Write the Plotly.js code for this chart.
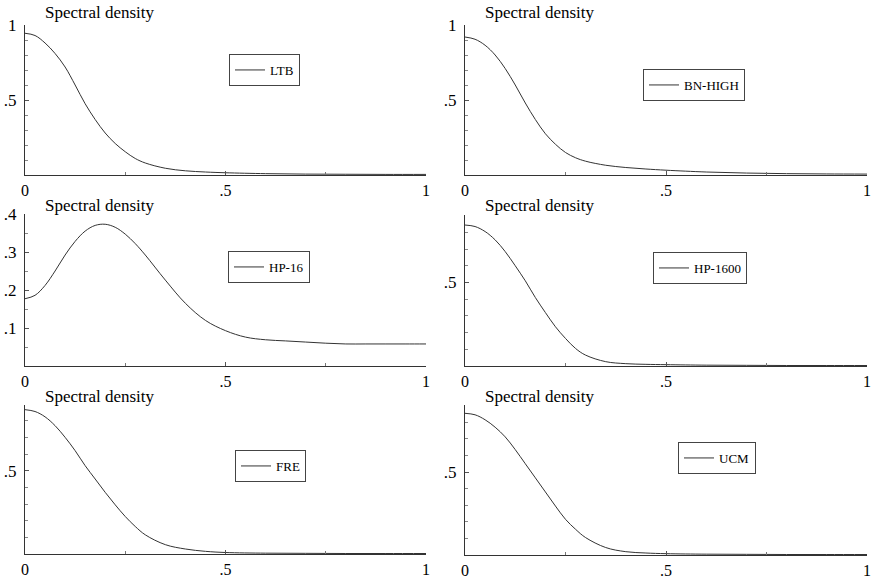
<!DOCTYPE html>
<html>
<head>
<meta charset="utf-8">
<script src="https://cdn.plot.ly/plotly-3.0.1.min.js"></script>
<style>html,body{margin:0;padding:0;background:#fff}#chart{width:873px;height:581px}</style>
</head>
<body>
<div id="chart"></div>
<script>
// Frequencies (fraction of pi)
const freqA = [0,0.025,0.05,0.075,0.1,0.125,0.15,0.175,0.2,0.225,0.25,0.275,0.3,0.35,0.4,0.45,0.5,0.6,0.7,0.8,0.9,1];
const freqB = [0,0.025,0.05,0.075,0.1,0.125,0.15,0.175,0.2,0.225,0.25,0.275,0.3,0.35,0.4,0.45,0.5,0.55,0.6,0.65,0.7,0.75,0.8,0.85,0.9,0.95,1];

const seriesNames = ["LTB","BN-HIGH","HP-16","HP-1600","FRE","UCM"];
const ltb    = [0.945,0.93,0.88,0.81,0.72,0.60,0.475,0.37,0.28,0.21,0.155,0.11,0.08,0.045,0.028,0.02,0.015,0.009,0.006,0.005,0.004,0.004];
const bnHigh = [0.92,0.905,0.865,0.80,0.71,0.60,0.48,0.37,0.275,0.205,0.15,0.115,0.092,0.065,0.05,0.04,0.032,0.02,0.013,0.009,0.007,0.006];
const hp16   = [0.177,0.186,0.212,0.25,0.292,0.328,0.355,0.37,0.373,0.365,0.347,0.322,0.292,0.226,0.165,0.12,0.093,0.076,0.069,0.066,0.063,0.06,0.058,0.058,0.058,0.058,0.058];
const hp1600 = [0.844,0.835,0.805,0.755,0.685,0.60,0.51,0.41,0.32,0.235,0.165,0.105,0.065,0.026,0.014,0.01,0.008,0.005,0.004,0.003,0.003,0.003];
const fre    = [0.866,0.855,0.823,0.77,0.70,0.62,0.53,0.45,0.37,0.295,0.225,0.165,0.115,0.056,0.03,0.016,0.009,0.005,0.004,0.003,0.003,0.003];
const ucm    = [0.854,0.845,0.815,0.77,0.712,0.635,0.55,0.465,0.38,0.295,0.215,0.155,0.105,0.045,0.02,0.012,0.008,0.005,0.004,0.003,0.003,0.003];

const xTickVals = [0,0.5,1];
const xTickText = ["0",".5","1"];
const yTicksTop = {vals:[0.5,1], text:[".5","1"]};
const yTicksHP16 = {vals:[0.1,0.2,0.3,0.4], text:[".1",".2",".3",".4"]};
const yTicksMid = {vals:[0.5], text:[".5"]};
const panelTitle = "Spectral density";

const W = 873, H = 581;
const FONT = "'Times New Roman', 'Liberation Serif', 'DejaVu Serif', serif";
const lineColor = "#333";

const ys = [ltb,bnHigh,hp16,hp1600,fre,ucm];
const xs = [freqA,freqA,freqB,freqA,freqA,freqA];

// panel pixel boxes [left,right,top,bottom]
const boxes = [
  [25,426,25,175],[465,867,25,175],
  [25,426,214,366],[465,867,215,366],
  [25,426,405,554],[465,867,405,555]
];
const yRanges = [[0,1],[0,1],[0,0.4],[0,0.904],[0,0.894],[0,0.904]];
const yTicks = [yTicksTop,yTicksTop,yTicksHP16,yTicksMid,yTicksMid,yTicksMid];
const yMinor = [0.1,0.1,0.05,0.1,0.1,0.1];
const legendPos = [[229,54],[643,69],[228,251],[653,252],[235,450],[678,442]];
const titlePos = [[43,13],[483,13],[43,205],[483,205],[43,396],[483,396]];

const data = [];
const layout = {
  width: W, height: H,
  margin: {l:0,r:0,t:0,b:0},
  paper_bgcolor: "#fff", plot_bgcolor: "#fff",
  font: {family: FONT, color: "#000", size: 16},
  annotations: []
};

for (let i = 0; i < 6; i++) {
  const n = i + 1;
  const sfx = n === 1 ? "" : String(n);
  const legName = n === 1 ? "legend" : "legend" + n;
  data.push({
    x: xs[i], y: ys[i], type: "scatter", mode: "lines",
    name: seriesNames[i],
    line: {color: lineColor, width: 1, shape: "spline", smoothing: 1},
    xaxis: "x" + sfx, yaxis: "y" + sfx,
    legend: legName, showlegend: true
  });
  const b = boxes[i];
  layout["xaxis" + sfx] = {
    domain: [b[0]/W, b[1]/W],
    range: [0,1], anchor: "y" + sfx,
    showgrid: false, zeroline: false,
    showline: true, linecolor: "#333", linewidth: 1,
    tickmode: "array", tickvals: xTickVals, ticktext: xTickText,
    ticks: "inside", ticklen: 4, tickcolor: "#555", tickwidth: 1,
    ticklabelstandoff: 1,
    tickfont: {family: FONT, size: 16, color: "#000"},
    minor: {tickvals: [0.25,0.75], ticks: "inside", ticklen: 3, tickcolor: "#777", showgrid: false},
    fixedrange: true
  };
  layout["yaxis" + sfx] = {
    domain: [1 - b[3]/H, 1 - b[2]/H],
    range: yRanges[i], anchor: "x" + sfx,
    showgrid: false, zeroline: false,
    showline: true, linecolor: "#333", linewidth: 1,
    tickmode: "array", tickvals: yTicks[i].vals, ticktext: yTicks[i].text,
    ticks: "inside", ticklen: 4, tickcolor: "#555", tickwidth: 1,
    ticklabelstandoff: 4,
    tickfont: {family: FONT, size: 17, color: "#000"},
    minor: {tick0: 0, dtick: yMinor[i], ticks: "inside", ticklen: 3, tickcolor: "#888", showgrid: false},
    fixedrange: true
  };
  const lp = legendPos[i];
  layout[legName] = {
    x: lp[0]/W, y: 1 - lp[1]/H, xanchor: "left", yanchor: "top",
    xref: "paper", yref: "paper",
    bgcolor: "#fff", bordercolor: "#444", borderwidth: 1,
    font: {family: FONT, size: 13, color: "#000"},
    itemwidth: 30, tracegroupgap: 0
  };
  const tp = titlePos[i];
  layout.annotations.push({
    text: panelTitle, xref: "paper", yref: "paper",
    x: tp[0]/W, y: 1 - tp[1]/H, xanchor: "left", yanchor: "middle",
    showarrow: false, font: {family: FONT, size: 17, color: "#000"}
  });
}

Plotly.newPlot("chart", data, layout, {displayModeBar: false, staticPlot: true});
</script>
</body>
</html>
